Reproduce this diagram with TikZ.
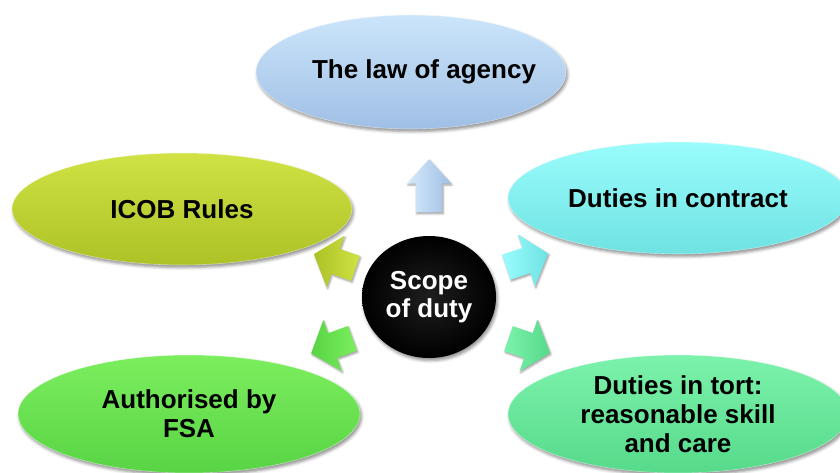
\documentclass[tikz,border=0pt]{standalone}
\usepackage{fontspec}
\setmainfont{Liberation Sans}
\usetikzlibrary{shapes.geometric,shapes.arrows,shadows.blur}

\definecolor{agencyTop}{HTML}{CBE5FA}
\definecolor{agencyBot}{HTML}{A0BFE5}
\definecolor{contractTop}{HTML}{9AFCFC}
\definecolor{contractBot}{HTML}{6FE2E2}
\definecolor{icobTop}{HTML}{D0E244}
\definecolor{icobBot}{HTML}{ADC226}
\definecolor{fsaTop}{HTML}{7CEE5E}
\definecolor{fsaBot}{HTML}{58D444}
\definecolor{tortTop}{HTML}{7CF2AC}
\definecolor{tortBot}{HTML}{56DA8A}

\tikzset{
  % negative inner sep lets the minimum size alone fix each ellipse
  topic/.style 2 args={ellipse, inner sep=-45pt, align=center,
    top color=#1, bottom color=#2, draw=white, draw opacity=0.5, line width=0.6pt,
    font=\fontsize{26}{29}\selectfont\bfseries,
    blur shadow={shadow xshift=1.5pt, shadow yshift=-2.5pt, shadow blur radius=3pt, shadow opacity=45}},
  hub/.style={ellipse, inner sep=0pt, align=center, text=white,
    inner color=black!88, outer color=black,
    font=\fontsize{26}{28}\selectfont\bfseries,
    blur shadow={shadow xshift=1.5pt, shadow yshift=-2.5pt, shadow blur radius=3pt, shadow opacity=45}},
  blockarrow/.style 2 args={single arrow, inner xsep=0pt, inner ysep=13pt, draw=none,
    left color=#1, right color=#2,
    blur shadow={shadow xshift=1pt, shadow yshift=-1.5pt, shadow blur radius=2pt, shadow opacity=40}},
  slanted/.style={minimum height=44pt, minimum width=54pt,
    single arrow head extend=14pt, single arrow tip angle=100},
}

\begin{document}
\begin{tikzpicture}[x=1pt, y=-1pt]
  \useasboundingbox (0,0) rectangle (840,473);
  \clip (0,0) rectangle (840,473);

  % outer topics
  \node[topic={agencyTop}{agencyBot}, minimum width=310pt, minimum height=114pt]
    (agency) at (411,72) {\hspace*{26pt}The law of agency};
  \node[topic={contractTop}{contractBot}, minimum width=340pt, minimum height=112pt]
    (contract) at (678,198) {Duties in contract};
  \node[topic={icobTop}{icobBot}, minimum width=340pt, minimum height=112pt]
    (icob) at (182,209) {ICOB Rules};
  \node[topic={fsaTop}{fsaBot}, minimum width=342pt, minimum height=118pt]
    (fsa) at (189,414) {Authorised by\\FSA};
  \node[topic={tortTop}{tortBot}, minimum width=340pt, minimum height=118pt]
    (tort) at (678,414) {Duties in tort:\\reasonable skill\\and care};

  % central hub
  \node[hub, minimum width=134pt, minimum height=122pt] (scope) at (429,297) {Scope\\of duty};

  % block arrows radiating from the hub
  \node[blockarrow={agencyTop!80!white}{agencyBot}, rotate=90,
        minimum height=53pt, minimum width=44pt, single arrow head extend=9pt,
        single arrow tip angle=85] (aAgency) at (429,193) {};
  \node[blockarrow={contractTop}{contractBot}, slanted, rotate=18] (aContract) at (522,262) {};
  \node[blockarrow={icobBot}{icobTop}, slanted, rotate=161] (aIcob) at (340,263) {};
  \node[blockarrow={fsaBot}{fsaTop}, slanted, rotate=200] (aFsa) at (337,344) {};
  \node[blockarrow={tortTop}{tortBot}, slanted, rotate=-19] (aTort) at (524,344) {};
\end{tikzpicture}
\end{document}
